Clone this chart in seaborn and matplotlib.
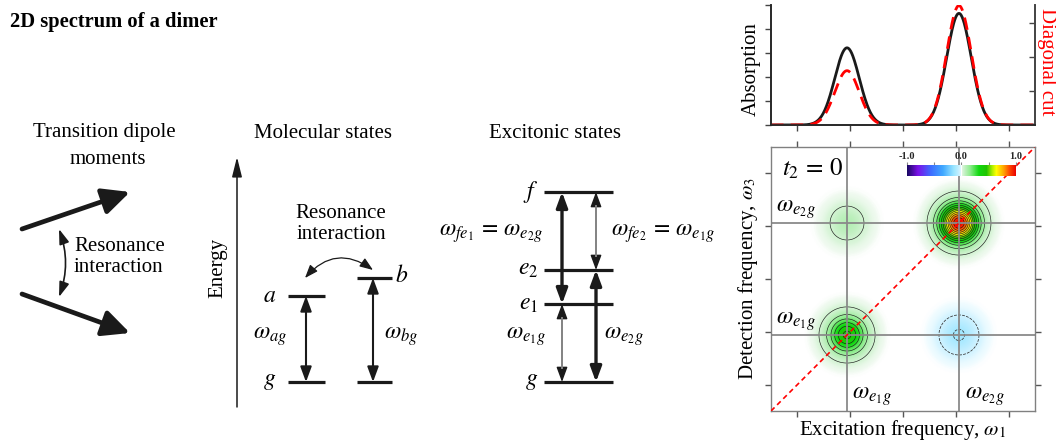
import numpy as np
import pandas as pd
import matplotlib
matplotlib.use('Agg')
import matplotlib.pyplot as plt
import seaborn as sns
from matplotlib.colors import LinearSegmentedColormap

# ------------------------------------------------------------------ data
peak_names = ['e1g', 'e2g']
peak_freq = [1.44, 3.56]          # transition frequencies (axis units)
peak_sigma = [0.232, 0.232]       # Gaussian line width
abs_amp = [0.643, 0.93]           # absorption peak heights
diag_amp = [0.455, 1.0]           # diagonal 2D peaks (diagonal cut)
cross_amp = [0.086, -0.125]       # cross peaks: (w1=e1g, w3=e2g), (w1=e2g, w3=e1g)

site_names = ['a', 'b']
site_energy = [0.86, 1.04]
exciton_names = ['g', 'e_1', 'e_2', 'f']
exciton_energy = [0.0, 0.78, 1.12, 1.90]

cbar_ticks = [-1.0, -0.5, 0.0, 0.5, 1.0]
cbar_labels = ['-1.0', '', '0.0', '', '1.0']
pos_levels = [0.033, 0.113, 0.193, 0.273, 0.353, 0.433, 0.513, 0.593,
              0.673, 0.753, 0.833, 0.913, 0.993]
neg_levels = [-0.113, -0.033]

# ------------------------------------------------------------------ style
sns.set_theme(style='white')
plt.rcParams['font.family'] = ['Liberation Serif', 'DejaVu Serif']
plt.rcParams['mathtext.fontset'] = 'stix'
plt.rcParams['text.color'] = 'black'
plt.rcParams['axes.labelcolor'] = 'black'
FS = 15
MS = 17

W, H = 1056, 441
fig = plt.figure(figsize=(W / 100, H / 100), dpi=100)


def box(x0, y0, x1, y1):
    return [x0 / W, 1 - y1 / H, (x1 - x0) / W, (y1 - y0) / H]


# ------------------------------------------------------------------ diagram canvas
ax_d = fig.add_axes([0, 0, 1, 1])
ax_d.set_xlim(0, W)
ax_d.set_ylim(-0.59, 3.82)        # energy units of the level diagrams
ax_d.axis('off')


def E(py):
    return (382 - py) / 100


ax_d.text(10, E(22), '2D spectrum of a dimer', fontsize=14.8, fontweight='bold',
          ha='left', va='center')
ax_d.text(104, E(133), 'Transition dipole', fontsize=FS, ha='center', va='center')
ax_d.text(108, E(160), 'moments', fontsize=FS, ha='center', va='center')
ax_d.text(323, E(133), 'Molecular states', fontsize=FS, ha='center', va='center')
ax_d.text(555, E(133), 'Excitonic states', fontsize=FS, ha='center', va='center')

# transition dipoles
big = dict(arrowstyle='-|>,head_length=0.75,head_width=0.36', lw=3.4, color='k',
           shrinkA=0, shrinkB=0, mutation_scale=22)
ax_d.annotate('', xy=(130, E(192)), xytext=(22, E(229)), arrowprops=big)
ax_d.annotate('', xy=(130, E(333)), xytext=(22, E(294)), arrowprops=big)
ax_d.annotate('', xy=(59, E(229)), xytext=(59, E(297)),
              arrowprops=dict(arrowstyle='<|-|>,head_length=0.9,head_width=0.3', lw=1.2,
                              color='k', shrinkA=0, shrinkB=0, mutation_scale=10,
                              connectionstyle='arc3,rad=0.18'))
ax_d.text(74, E(257), 'Resonance\ninteraction', fontsize=FS, ha='left', va='center',
          linespacing=1.15)

# energy axis
ax_d.annotate('', xy=(237, E(157)), xytext=(237, E(407)),
              arrowprops=dict(arrowstyle='-|>,head_length=1.0,head_width=0.25', lw=1.1,
                              color='k', shrinkA=0, shrinkB=0, mutation_scale=12))
ax_d.text(218, E(268), 'Energy', fontsize=FS, rotation=90, ha='center', va='center')

# molecular (site) states
lvl_lw = 2.3
mol_x = [(288, 325), (357, 392)]
for (x0, x1), en in zip(mol_x, site_energy):
    ax_d.plot([x0, x1], [en, en], color='k', lw=lvl_lw, solid_capstyle='butt')
    ax_d.plot([x0, x1], [exciton_energy[0], exciton_energy[0]], color='k', lw=lvl_lw,
              solid_capstyle='butt')

dbl = dict(arrowstyle='<|-|>,head_length=0.65,head_width=0.24', color='k',
           shrinkA=0, shrinkB=0, mutation_scale=14)
for xa, en in zip([306, 373], site_energy):
    ax_d.annotate('', xy=(xa, en), xytext=(xa, exciton_energy[0]),
                  arrowprops=dict(dbl, lw=1.5))

ax_d.text(276, site_energy[0], r'$a$', fontsize=MS, ha='right', va='center')
ax_d.text(276, exciton_energy[0], r'$g$', fontsize=MS, ha='right', va='center')
ax_d.text(395, site_energy[1] + 0.02, r'$b$', fontsize=MS, ha='left', va='center')
ax_d.text(253, E(337), r'$\omega_{ag}$', fontsize=MS, ha='left', va='center')
ax_d.text(384, E(337), r'$\omega_{bg}$', fontsize=MS, ha='left', va='center')
ax_d.annotate('', xy=(373, E(270)), xytext=(305, E(278)),
              arrowprops=dict(arrowstyle='<|-|>,head_length=0.8,head_width=0.3', lw=0.9,
                              color='k', shrinkA=0, shrinkB=0, mutation_scale=10,
                              connectionstyle='arc3,rad=-0.45'))
ax_d.text(341, E(224), 'Resonance\ninteraction', fontsize=FS, ha='center', va='center',
          linespacing=1.15)

# excitonic states
ex_x0, ex_x1 = 544, 613
for en in exciton_energy:
    ax_d.plot([ex_x0, ex_x1], [en, en], color='k', lw=lvl_lw, solid_capstyle='butt')
for name, en in zip(exciton_names, exciton_energy):
    ax_d.text(538, en, '$' + name + '$', fontsize=MS, ha='right', va='center')

g, e1, e2, f = exciton_energy
head_len = 0.13   # arrow-head length in energy units (for the grey shafts)


def thin_arrow(x, lo, hi):
    ax_d.annotate('', xy=(x, hi), xytext=(x, lo), arrowprops=dict(dbl, lw=1.0))
    ax_d.plot([x, x], [lo + head_len, hi - head_len], color='#8a8a8a', lw=1.3,
              solid_capstyle='butt', zorder=3)


ax_d.annotate('', xy=(562, f), xytext=(562, e1), arrowprops=dict(dbl, lw=2.4))
thin_arrow(562, g, e1)
ax_d.annotate('', xy=(596, e2), xytext=(596, g), arrowprops=dict(dbl, lw=2.4))
thin_arrow(596, e2, f)

ax_d.text(491, E(234), r'$\omega_{fe_1}\,=\,\omega_{e_2g}$', fontsize=MS, ha='center', va='center')
ax_d.text(611, E(234), r'$\omega_{fe_2}\,=\,\omega_{e_1g}$', fontsize=MS, ha='left', va='center')
ax_d.text(546, E(337), r'$\omega_{e_1g}$', fontsize=MS, ha='right', va='center')
ax_d.text(604, E(337), r'$\omega_{e_2g}$', fontsize=MS, ha='left', va='center')

# ------------------------------------------------------------------ spectra
freq = np.linspace(0, 5, 501)


def gauss(x, x0, s):
    return np.exp(-(x - x0) ** 2 / (2 * s ** 2))


absorption = sum(a * gauss(freq, x0, s) for a, x0, s in zip(abs_amp, peak_freq, peak_sigma))
diagonal = sum(a * gauss(freq, x0, s) for a, x0, s in zip(diag_amp, peak_freq, peak_sigma))
df = pd.DataFrame({'freq': freq, 'absorption': absorption, 'diagonal': diagonal})

ax1 = fig.add_axes(box(771, 5, 1035, 125))
sns.lineplot(data=df, x='freq', y='absorption', ax=ax1, color='k', lw=2.0)
ax1.set_xlim(0, 5)
ax1.set_ylim(0, 1.0)
ax1.set_xticks([0.5, 1.5, 2.5, 3.5, 4.5])
ax1.set_yticks([0, 0.2, 0.4, 0.6, 0.8, 1.0])
ax1.tick_params(direction='out', length=4, width=1, color='#444444', bottom=True, left=True,
                labelbottom=False, labelleft=False)
ax1.spines['top'].set_visible(False)
for s in ['left', 'bottom', 'right']:
    ax1.spines[s].set_color('#444444')
ax1.set_xlabel('')
ax1.set_ylabel('Absorption', fontsize=FS)
ax1.yaxis.set_label_coords(-0.04, 0.47)
ax1.patch.set_alpha(0)

ax1b = ax1.twinx()
sns.lineplot(data=df, x='freq', y='diagonal', ax=ax1b, color='red', lw=2.0)
ax1b.lines[0].set_dashes([4.5, 2.6])
ax1b.set_ylim(0, 1.005)
ax1b.set_xlim(0, 5)
ax1b.set_yticks([0.285, 0.57, 0.855])
ax1b.tick_params(axis='y', direction='in', length=4, width=1, color='#444444', right=True,
                 labelright=False)
ax1b.spines['top'].set_visible(False)
ax1b.spines['right'].set_color('#444444')
ax1b.set_ylabel('')
ax1b.text(1.009, 0.525, 'Diagonal cut', color='red', fontsize=FS, rotation=270,
          ha='left', va='center', transform=ax1b.transAxes)

# ------------------------------------------------------------------ 2D spectrum
grid = np.linspace(0, 5, 401)
X, Y = np.meshgrid(grid, grid)
peaks2d = [(peak_freq[0], peak_freq[0], diag_amp[0], peak_sigma[0]),
           (peak_freq[1], peak_freq[1], diag_amp[1], peak_sigma[1]),
           (peak_freq[0], peak_freq[1], cross_amp[0], peak_sigma[0]),
           (peak_freq[1], peak_freq[0], cross_amp[1], peak_sigma[1])]
Z = sum(a * np.exp(-((X - x0) ** 2 + (Y - y0) ** 2) / (2 * s ** 2)) for x0, y0, a, s in peaks2d)

cmap = LinearSegmentedColormap.from_list('spec', [
    (0.00, '#15085e'), (0.10, '#7a10e8'), (0.22, '#3c6cff'), (0.33, '#3fa8ff'),
    (0.43, '#9ae6ff'), (0.47, '#bfeeff'), (0.49, '#d8f5ff'), (0.498, '#f0fcff'),
    (0.4995, '#ffffff'), (0.5005, '#ffffff'),
    (0.502, '#f0faf0'), (0.51, '#daf5da'), (0.53, '#c2f0c2'), (0.58, '#8cec8c'),
    (0.66, '#10d810'), (0.73, '#20c400'), (0.78, '#a8ec00'), (0.82, '#ffff00'),
    (0.89, '#ffa000'), (0.94, '#ff4a00'), (1.00, '#e80000')], N=2048)

ax2 = fig.add_axes(box(771, 147, 1035, 411))
im = ax2.imshow(Z, extent=[0, 5, 0, 5], origin='lower', cmap=cmap, vmin=-1, vmax=1,
                interpolation='bilinear', aspect='auto', zorder=0)
ax2.contour(X, Y, Z, levels=neg_levels, colors='#333333', linewidths=0.55,
            linestyles='dashed', zorder=1)
ax2.contour(X, Y, Z, levels=pos_levels, colors='#1a1a1a', linewidths=0.45, zorder=1)
for p in peak_freq:
    ax2.axvline(p, color='#8a8a8a', lw=1.3, zorder=2)
    ax2.axhline(p, color='#8a8a8a', lw=1.3, zorder=2)
ax2.plot([0, 5], [0, 5], color='red', lw=1.2, dashes=(3, 2.2), zorder=3)
ax2.set_xlim(0, 5)
ax2.set_ylim(0, 5)
ax2.set_xticks([0.5, 1.5, 2.5, 3.5, 4.5])
ax2.set_yticks([0.5, 1.5, 2.5, 3.5, 4.5])
ax2.tick_params(direction='out', length=4, width=1, color='#555555', bottom=True, left=True,
                top=True, right=True, labelbottom=False, labelleft=False)
for s in ax2.spines.values():
    s.set_color('#808080')
    s.set_linewidth(1.0)
ax2.set_xlabel(r'Excitation frequency, $\omega_1$', fontsize=FS)
ax2.xaxis.set_label_coords(0.5, -0.028)
ax2.set_ylabel(r'Detection frequency, $\omega_3$', fontsize=FS)
ax2.yaxis.set_label_coords(-0.04, 0.5)

ax2.text(0.21, 4.58, r'$t_2\,=\,0$', fontsize=MS + 1, ha='left', va='center')
ax2.text(0.10, 3.82, r'$\omega_{e_2g}$', fontsize=MS, ha='left', va='center')
ax2.text(0.10, 1.70, r'$\omega_{e_1g}$', fontsize=MS, ha='left', va='center')
ax2.text(1.53, 0.28, r'$\omega_{e_1g}$', fontsize=MS, ha='left', va='center')
ax2.text(3.67, 0.28, r'$\omega_{e_2g}$', fontsize=MS, ha='left', va='center')

cax = ax2.inset_axes([0.515, 0.89, 0.413, 0.042])
cb = fig.colorbar(im, cax=cax, orientation='horizontal', ticks=cbar_ticks)
cax.xaxis.set_ticks_position('top')
cax.set_xticklabels(cbar_labels, fontweight='bold', fontsize=7.5)
cax.tick_params(length=2.5, pad=0.5, width=0.8, direction='out', color='#888888', top=True,
                bottom=False)
cb.outline.set_visible(False)

fig.savefig('out.png', dpi=100)
